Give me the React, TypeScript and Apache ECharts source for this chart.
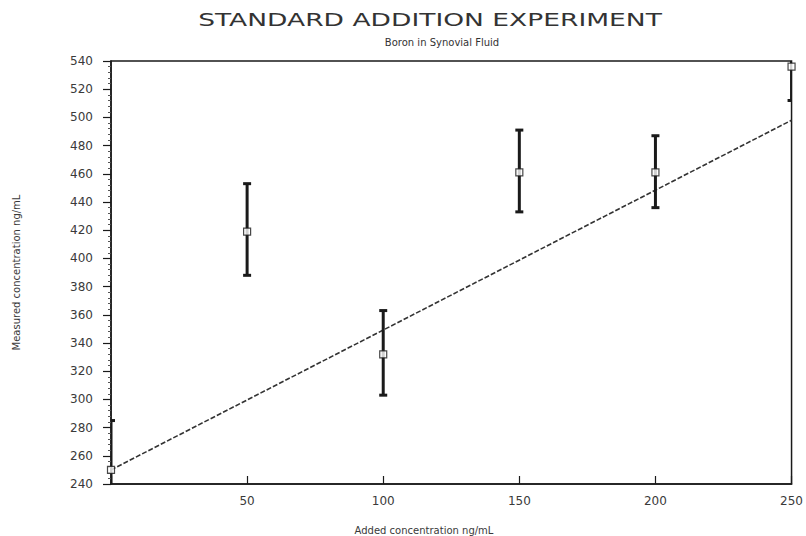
import React, { useEffect, useRef } from "react";
import * as echarts from "echarts";

const titleText = "STANDARD ADDITION EXPERIMENT";
const subtitleText = "Boron in Synovial Fluid";
const xAxisName = "Added concentration ng/mL";
const yAxisName = "Measured concentration ng/mL";

const addedConc = [0, 50, 100, 150, 200, 250];
const measured = [250, 419, 332, 461, 461, 536];
const errLow = [215, 388, 303, 433, 436, 512];
const errHigh = [285, 453, 363, 491, 487, 560];

const fitX = [0, 250];
const fitY = [250, 498];

const yMin = 240;
const yMax = 540;
const yStep = 20;
const xMin = 0;
const xMax = 250;
const xStep = 50;

export default function App() {
  const ref = useRef<HTMLDivElement>(null);

  useEffect(() => {
    if (!ref.current) return;
    const chart = echarts.init(ref.current, null, { renderer: "svg" });
    const ink = "#1a1a1a";
    const textCol = "#3a3a3a";
    const font = "DejaVu Sans";

    const option: any = {
      animation: false,
      backgroundColor: "#ffffff",
      grid: {
        left: 111,
        right: 13,
        top: 61,
        bottom: 52,
        show: true,
        borderColor: ink,
        borderWidth: 1.5,
        backgroundColor: "transparent",
      },
      xAxis: {
        type: "value",
        min: xMin,
        max: xMax,
        interval: xStep,
        axisLine: { show: true, lineStyle: { color: ink, width: 1.5 } },
        axisTick: { show: true, inside: true, length: 8, lineStyle: { color: ink, width: 1.2 } },
        axisLabel: {
          margin: 11,
          color: textCol,
          fontFamily: font,
          fontSize: 12,
          formatter: (v: number) => (v === 0 ? "" : String(v)),
        },
        splitLine: { show: false },
      },
      yAxis: {
        type: "value",
        min: yMin,
        max: yMax,
        interval: yStep,
        axisLine: { show: true, lineStyle: { color: ink, width: 1.5 } },
        axisTick: { show: true, inside: false, length: 8, lineStyle: { color: ink, width: 1.2 } },
        minorTick: { show: true, splitNumber: 5, length: 3, lineStyle: { color: "#555", width: 1 } },
        axisLabel: {
          margin: 18,
          color: textCol,
          fontFamily: font,
          fontSize: 12,
        },
        name: yAxisName,
        nameLocation: "middle",
        nameGap: 90,
        nameRotate: 90,
        nameTextStyle: { color: textCol, fontFamily: font, fontSize: 10 },
        splitLine: { show: false },
      },
      graphic: [
        {
          type: "text",
          x: 430,
          y: 20,
          scaleX: 1.56,
          style: {
            text: titleText,
            fill: "#333",
            font: `17px "${font}"`,
            textAlign: "center",
            textVerticalAlign: "middle",
          },
        },
        {
          type: "text",
          x: 442,
          y: 42,
          style: {
            text: subtitleText,
            fill: "#333",
            font: `10px "${font}"`,
            textAlign: "center",
            textVerticalAlign: "middle",
          },
        },
        {
          type: "text",
          x: 424,
          y: 530,
          style: {
            text: xAxisName,
            fill: textCol,
            font: `10px "${font}"`,
            textAlign: "center",
            textVerticalAlign: "middle",
          },
        },
      ],
      series: [
        {
          type: "line",
          data: fitX.map((x, i) => [x, fitY[i]]),
          showSymbol: false,
          symbol: "none",
          lineStyle: { color: "#333", width: 1.6, type: [5, 2] },
          z: 2,
        },
        {
          type: "custom",
          clip: true,
          data: addedConc.map((x, i) => [x, errLow[i], errHigh[i]]),
          renderItem: (params: any, api: any) => {
            const x = api.value(0);
            const lo = api.coord([x, api.value(1)]);
            const hi = api.coord([x, api.value(2)]);
            const cap = 4;
            const st = { stroke: ink, lineWidth: 3 };
            return {
              type: "group",
              children: [
                { type: "line", shape: { x1: lo[0], y1: lo[1], x2: hi[0], y2: hi[1] }, style: st },
                { type: "line", shape: { x1: lo[0] - cap, y1: lo[1], x2: lo[0] + cap, y2: lo[1] }, style: st },
                { type: "line", shape: { x1: hi[0] - cap, y1: hi[1], x2: hi[0] + cap, y2: hi[1] }, style: st },
              ],
            };
          },
          z: 3,
        },
        {
          type: "scatter",
          data: addedConc.map((x, i) => [x, measured[i]]),
          symbol: "rect",
          symbolSize: 7,
          itemStyle: { color: "#ffffff", borderColor: ink, borderWidth: 1.2 },
          z: 4,
        },
      ],
    };

    chart.setOption(option);
    return () => chart.dispose();
  }, []);

  return (
    <div
      ref={ref}
      style={{ position: "fixed", left: 0, top: 0, width: 806, height: 536, background: "#fff" }}
    />
  );
}
